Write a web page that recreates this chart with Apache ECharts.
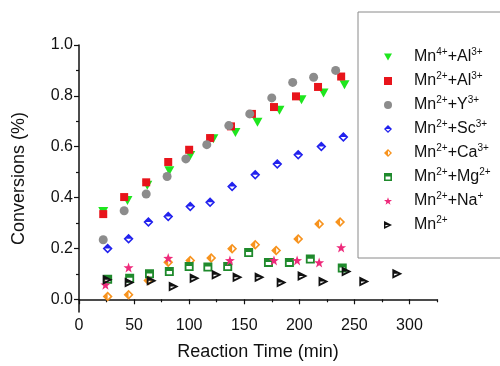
<!DOCTYPE html>
<html>
<head>
<meta charset="utf-8">
<script src="https://cdn.jsdelivr.net/npm/echarts@6/dist/echarts.min.js"></script>
<style>
  html, body { margin: 0; padding: 0; background: #fff; }
  #chart { width: 500px; height: 366px; }
</style>
</head>
<body>
<div id="chart"></div>
<script>
// data: [time (min), conversion]
const seriesNames = ['Mn4+Al3+', 'Mn2+Al3+', 'Mn2+Y3+', 'Mn2+Sc3+', 'Mn2+Ca3+', 'Mn2+Mg2+', 'Mn2+Na+', 'Mn2+'];
const legendText = [
  'Mn{s|4+}+Al{s|3+}', 'Mn{s|2+}+Al{s|3+}', 'Mn{s|2+}+Y{s|3+}', 'Mn{s|2+}+Sc{s|3+}',
  'Mn{s|2+}+Ca{s|3+}', 'Mn{s|2+}+Mg{s|2+}', 'Mn{s|2+}+Na{s|+}', 'Mn{s|2+}'
];
const mn4Al = [[22,0.345],[44,0.388],[62,0.448],[82,0.505],[101,0.565],[122,0.631],[142,0.656],[162,0.696],[182,0.743],[202,0.785],[222,0.811],[241,0.844]];
const mn2Al = [[22,0.335],[41,0.402],[61,0.46],[81,0.54],[100,0.588],[119,0.634],[138,0.68],[157,0.729],[177,0.756],[197,0.798],[217,0.835],[238,0.876]];
const mn2Y  = [[22,0.234],[41,0.348],[61,0.414],[80,0.483],[97,0.552],[116,0.608],[136,0.683],[155,0.729],[175,0.792],[194,0.853],[213,0.873],[233,0.9]];
const mn2Sc = [[26,0.2],[45,0.238],[63,0.304],[81,0.326],[101,0.365],[119,0.382],[139,0.444],[160,0.49],[180,0.532],[199,0.568],[220,0.601],[240,0.638]];
const mn2Ca = [[26,0.011],[45,0.018],[63,0.074],[81,0.146],[101,0.153],[120,0.162],[139,0.199],[160,0.214],[179,0.192],[199,0.237],[218,0.296],[237,0.304]];
const mn2Mg = [[26,0.079],[46,0.083],[64,0.1],[82,0.109],[100,0.129],[117,0.127],[135,0.129],[154,0.184],[172,0.145],[191,0.145],[210,0.158],[239,0.123]];
const mn2Na = [[24,0.057],[45,0.125],[81,0.162],[137,0.153],[177,0.153],[198,0.153],[218,0.145],[238,0.204]];
const mn2   = [[26,0.077],[46,0.066],[66,0.073],[86,0.05],[105,0.083],[125,0.096],[144,0.087],[164,0.087],[184,0.066],[203,0.092],[222,0.07],[243,0.109],[259,0.07],[289,0.1]];

const xLabels = [0, 50, 100, 150, 200, 250, 300];
const xMinor = [25, 75, 125, 175, 225, 275, 325];
const yLabels = [0, 0.2, 0.4, 0.6, 0.8, 1.0];
const yMinor = [0.1, 0.3, 0.5, 0.7, 0.9];

// half-filled outline symbols
const diamondTop = 'path://M10,0 L20,10 L10,20 L0,10 Z M10,4.5 L4.5,10 L10,15.5 L15.5,10 Z M10,4.5 L15.5,10 L4.5,10 Z';
const diamondLeft = 'path://M10,0 L20,10 L10,20 L0,10 Z M10,4.5 L4.5,10 L10,15.5 L15.5,10 Z M10,4.5 L10,15.5 L4.5,10 Z';
const squareTop = 'path://M0,0 L20,0 L20,20 L0,20 Z M4,4 L4,16 L16,16 L16,4 Z M4,4 L16,4 L16,9 L4,9 Z';
const triRight = 'path://M0,0 L20,10 L0,20 Z M3.5,6 L3.5,14 L12,10 Z M3.5,6 L12,10 L3.5,10 Z';
const triDown = 'path://M0,0 L20,0 L10,17 Z';
const star = 'path://M10,0 L12.35,6.76 L19.51,6.91 L13.8,11.24 L15.88,18.09 L10,14 L4.12,18.09 L6.2,11.24 L0.49,6.91 L7.65,6.76 Z';

const font = 'Liberation Sans, Arial, sans-serif';
const chart = echarts.init(document.getElementById('chart'));

function sc(i, data, color, symbol, size) {
  return {
    name: seriesNames[i], type: 'scatter', data: data,
    symbol: symbol, symbolSize: size,
    itemStyle: { color: color, opacity: 1 },
    emphasis: { disabled: true }
  };
}

chart.setOption({
  animation: false,
  backgroundColor: '#fff',
  textStyle: { fontFamily: font },
  graphic: [{
    type: 'rect', z: -1,
    shape: { x: 358, y: 12, width: 160, height: 246 },
    style: { fill: '#fff', stroke: '#8a8a8a', lineWidth: 1 }
  }],
  grid: { left: 79, right: 63, top: 45, bottom: 53 },
  legend: {
    orient: 'vertical', left: 384, top: 47, padding: 0,
    itemWidth: 8, itemHeight: 8, itemGap: 4,
    data: seriesNames,
    formatter: function (name) { return '{g| }' + legendText[seriesNames.indexOf(name)]; },
    textStyle: {
      fontFamily: font, fontSize: 16, color: '#111', lineHeight: 20,
      rich: {
        g: { width: 17 },
        s: { fontSize: 10, lineHeight: 10, verticalAlign: 'top', fontFamily: font, color: '#111' }
      }
    }
  },
  xAxis: [{
    type: 'value', min: 0, max: 325,
    name: 'Reaction Time (min)', nameLocation: 'middle', nameGap: 31,
    nameTextStyle: { fontSize: 18, color: '#111', fontFamily: font },
    axisLine: { show: true, lineStyle: { color: '#111', width: 1.5 } },
    axisTick: { show: true, length: 5, customValues: xLabels, lineStyle: { color: '#111', width: 1.2 } },
    axisLabel: { customValues: xLabels, margin: 6, fontSize: 16, color: '#111', fontFamily: font },
    splitLine: { show: false }
  }, {
    type: 'value', min: 0, max: 325, position: 'bottom',
    axisLine: { show: false },
    axisTick: { show: true, length: 3, customValues: xMinor, lineStyle: { color: '#111', width: 1.2 } },
    axisLabel: { show: false },
    splitLine: { show: false }
  }],
  yAxis: [{
    type: 'value', min: -0.05, max: 1.0,
    name: 'Conversions (%)', nameLocation: 'middle', nameGap: 51,
    nameTextStyle: { fontSize: 18, color: '#111', fontFamily: font },
    axisLine: { show: true, lineStyle: { color: '#111', width: 1.5 } },
    axisTick: { show: true, length: 5, customValues: yLabels, lineStyle: { color: '#111', width: 1.2 } },
    axisLabel: {
      customValues: yLabels, margin: 6, fontSize: 16, color: '#111', fontFamily: font,
      formatter: function (v) { return v.toFixed(1); }
    },
    splitLine: { show: false }
  }, {
    type: 'value', min: -0.05, max: 1.0, position: 'left',
    axisLine: { show: false },
    axisTick: { show: true, length: 3, customValues: yMinor, lineStyle: { color: '#111', width: 1.2 } },
    axisLabel: { show: false },
    splitLine: { show: false }
  }],
  series: [
    sc(0, mn4Al, '#1ee61e', triDown, [10, 9]),
    sc(1, mn2Al, '#e8141b', 'rect', 8),
    sc(2, mn2Y, '#8c8c8c', 'circle', 9),
    sc(3, mn2Sc, '#2222ee', diamondTop, 10),
    sc(4, mn2Ca, '#f7931e', diamondLeft, 10),
    sc(5, mn2Mg, '#1f8a2c', squareTop, 9),
    sc(6, mn2Na, '#ee2a7b', star, 10),
    sc(7, mn2, '#111111', triRight, [10, 10])
  ]
});
</script>
</body>
</html>
